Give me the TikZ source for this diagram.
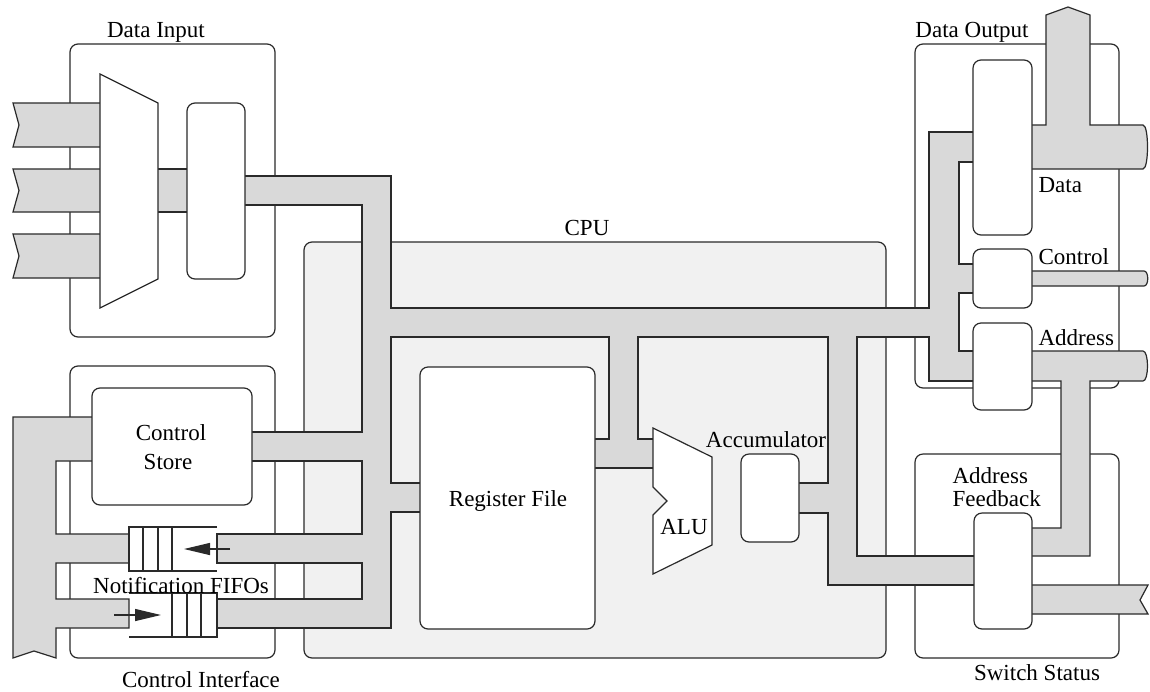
\documentclass[tikz,border=0pt]{standalone}
\usepackage{fontspec}
\setmainfont{Liberation Serif}
\usetikzlibrary{arrows.meta}
\definecolor{busgray}{HTML}{D9D9D9}
\definecolor{cpugray}{HTML}{F1F1F1}
\definecolor{linec}{HTML}{2A2A2A}
\begin{document}
\begin{tikzpicture}[x=0.5pt,y=-0.5pt,line width=0.6pt,
  box/.style={draw=linec,rounded corners=4pt},
  reg/.style={draw=linec,fill=white,rounded corners=4pt},
  bus/.style={draw=linec,fill=busgray,line join=miter},
  plain/.style={draw=linec,fill=white,line join=miter},
  lbl/.style={font=\fontsize{11.5}{13.8}\selectfont,inner sep=0pt},
  fifoarrow/.style={draw=linec,-{Triangle[length=13pt,width=6pt]}}]
\useasboundingbox (0,0) rectangle (1150,691);

% ---------- enclosing boxes ----------
\draw[box] (70,44) rectangle (275,337);
\draw[box] (70,366) rectangle (275,658);
\draw[box,fill=cpugray] (304,242) rectangle (886,658);
\draw[box] (915,44) rectangle (1119,388);
\draw[box] (915,454) rectangle (1119,658);

% ---------- buses ----------
% input buses
\foreach \t/\b in {103/147,169/212,234/278}{
  \draw[bus] (105,\t) -- (13,\t) -- (19,{(\t+\b)/2}) -- (13,\b) -- (105,\b);
}
% mux -> input register
\draw[bus] (153,169) rectangle (192,212);

% main bus network
\draw[bus] (240,176) -- (391,176) -- (391,308) -- (929,308) -- (929,132)
  -- (978,132) -- (978,162) -- (959,162) -- (959,264) -- (978,264)
  -- (978,293) -- (959,293) -- (959,351) -- (978,351) -- (978,381)
  -- (929,381) -- (929,337) -- (857,337) -- (857,556) -- (979,556)
  -- (979,585) -- (828,585) -- (828,513) -- (794,513) -- (794,483)
  -- (828,483) -- (828,337) -- (638,337) -- (638,439) -- (658,439)
  -- (658,468) -- (590,468) -- (590,439) -- (609,439) -- (609,337)
  -- (391,337) -- (391,483) -- (425,483) -- (425,512) -- (391,512)
  -- (391,628) -- (217,628) -- (217,599) -- (362,599) -- (362,563)
  -- (217,563) -- (217,534) -- (362,534) -- (362,461) -- (247,461)
  -- (247,432) -- (362,432) -- (362,205) -- (240,205) -- cycle;

% control store -> left bus
\draw[bus] (97,417) -- (13,417) -- (13,658) -- (34,651) -- (56,658)
  -- (56,628) -- (129,628) -- (129,599) -- (56,599) -- (56,563)
  -- (129,563) -- (129,534) -- (56,534) -- (56,461) -- (97,461) -- cycle;

% data output bus with upward branch
\draw[bus] (1027,125) -- (1046,125) -- (1046,15) -- (1068,7) -- (1090,15)
  -- (1090,125) -- (1143,125) .. controls (1149,125) and (1149,169) .. (1143,169)
  -- (1027,169) -- cycle;
% control output bus
\draw[bus] (1027,271) -- (1144,271) .. controls (1149,271) and (1149,286) .. (1144,286)
  -- (1027,286) -- cycle;
% address output bus with feedback
\draw[bus] (1027,351) -- (1143,351) .. controls (1149,351) and (1149,381) .. (1143,381)
  -- (1090,381) -- (1090,556) -- (1027,556) -- (1027,528) -- (1061,528)
  -- (1061,381) -- (1027,381) -- cycle;
% switch status output
\draw[bus] (1027,585) -- (1148,585) -- (1140,600) -- (1148,614) -- (1027,614) -- cycle;

% ---------- components ----------
\draw[plain] (100,74) -- (158,103) -- (158,279) -- (100,308) -- cycle;
\draw[reg] (187,103) rectangle (245,279);
\draw[reg] (92,388) rectangle (252,505);
\draw[reg] (420,367) rectangle (595,629);
\draw[plain] (653,428) -- (712,457) -- (712,545) -- (653,574) -- (653,515)
  -- (667,501) -- (653,487) -- cycle;
\draw[reg] (741,454) rectangle (799,542);
\draw[reg] (973,60) rectangle (1032,235);
\draw[reg] (973,249) rectangle (1032,308);
\draw[reg] (973,323) rectangle (1032,410);
\draw[reg] (974,513) rectangle (1032,629);

% notification FIFOs
\fill[white] (129,527) rectangle (216,571);
\draw[draw=linec] (217,527) -- (129,527) -- (129,571) -- (217,571);
\foreach \x in {143,158,172}{\draw[draw=linec] (\x,527) -- (\x,571);}
\fill[white] (130,593) rectangle (217,637);
\draw[draw=linec] (129,593) -- (217,593) -- (217,637) -- (129,637);
\foreach \x in {172,187,201}{\draw[draw=linec] (\x,593) -- (\x,637);}
\coordinate (in1s) at (230,549);
\coordinate (in1e) at (184,549);
\coordinate (out1s) at (114,615);
\coordinate (out1e) at (161,615);
\draw[fifoarrow] (in1s) -- (in1e);
\draw[fifoarrow] (out1s) -- (out1e);

% ---------- labels ----------
\node[lbl,anchor=base] (tdi) at (156,37) {Data Input};
\node[lbl,anchor=base] (tci) at (201,687) {Control Interface};
\node[lbl,anchor=base] (tcpu) at (587,235) {CPU};
\node[lbl,anchor=base] (tdo) at (972,37) {Data Output};
\node[lbl,anchor=base west] (tdata) at (1038,192) {Data};
\node[lbl,anchor=base west] (tctl) at (1038,264) {Control};
\node[lbl,anchor=base west] (taddr) at (1038,345) {Address};
\node[lbl,anchor=base west] (taf1) at (952,483) {Address};
\node[lbl,anchor=base west] (taf2) at (952,506) {Feedback};
\node[lbl,anchor=base] (tss) at (1037,680) {Switch Status};
\node[lbl,anchor=base] (tacc) at (766,447) {Accumulator};
\node[lbl,anchor=base] (talu) at (684,534) {ALU};
\node[lbl,anchor=base] (trf) at (508,506) {Register File};
\node[lbl,anchor=base] (tcs1) at (171,440) {Control};
\node[lbl,anchor=base] (tcs2) at (168,469) {Store};
\node[lbl,anchor=base] (tnf) at (181,593) {Notification FIFOs};
\end{tikzpicture}
\end{document}
